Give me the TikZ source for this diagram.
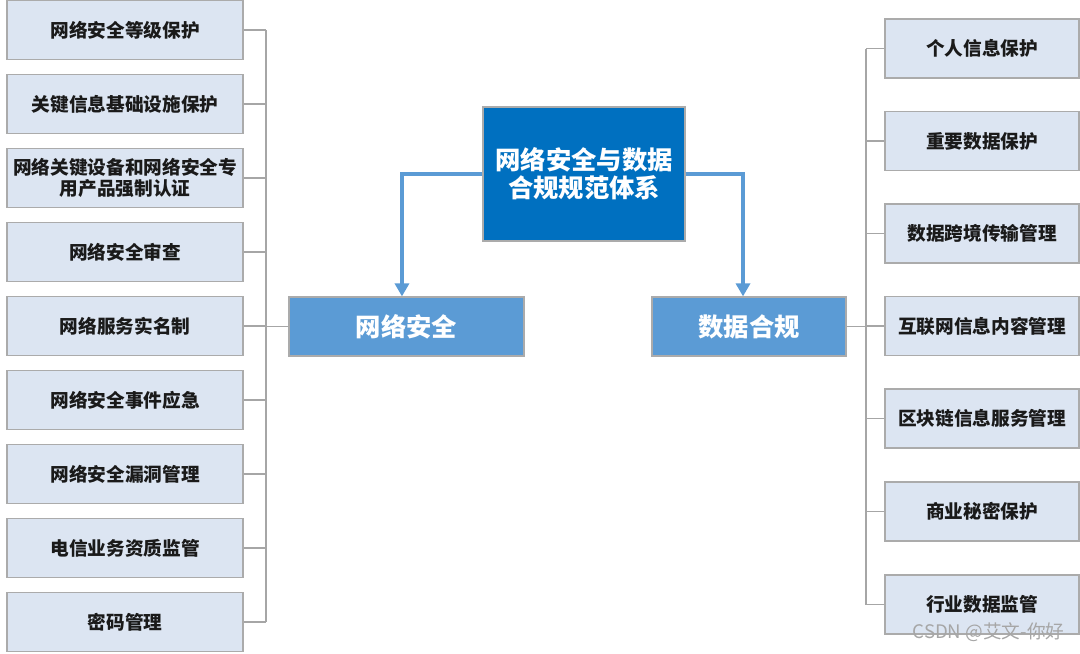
\documentclass[tikz,border=0pt]{standalone}
\usepackage{fontspec}
\setmainfont{Noto Sans CJK SC}
\usetikzlibrary{arrows.meta}
\definecolor{leaffill}{HTML}{DCE5F2}
\definecolor{leafdraw}{HTML}{ABABAB}
\definecolor{connc}{HTML}{A6A6A6}
\definecolor{topblue}{HTML}{0070C0}
\definecolor{midblue}{HTML}{5B9BD5}
\definecolor{txt}{HTML}{1A1A1A}
\begin{document}
\begin{tikzpicture}[x=0.75pt,y=-0.75pt,
  leaf/.style={draw=leafdraw, fill=leaffill, line width=0.9pt, text=txt,
    font=\bfseries\fontsize{14}{15.75}\selectfont, align=center,
    minimum height=44.25pt, inner sep=0pt},
  lleaf/.style={leaf, minimum width=177pt},
  rleaf/.style={leaf, minimum width=145.5pt},
  mid/.style={draw=leafdraw, fill=midblue, line width=0.9pt, text=white,
    font=\bfseries\fontsize{19}{21}\selectfont, minimum height=44.25pt, inner sep=0pt},
  topbox/.style={draw=leafdraw, fill=topblue, line width=0.9pt, text=white,
    font=\bfseries\fontsize{19}{21}\selectfont, align=center,
    minimum width=151.5pt, minimum height=100.5pt, inner sep=0pt},
  conn/.style={draw=connc, line width=0.8pt},
  arr/.style={draw=midblue, line width=3.4pt,
    -{Triangle[width=10.5pt,length=9.75pt]}},
  wm/.style={text=gray!70, font=\fontsize{14}{16}\selectfont}
]
\useasboundingbox (0,0) rectangle (1080,653);

% central
\node[topbox] (top) at (584,174) {网络安全与数据\\合规规范体系};
\node[mid, minimum width=176.25pt] (ns) at (406.5,326.5) {网络安全};
\node[mid, minimum width=145.5pt] (dc) at (749,326.5) {数据合规};

% left leaves
\node[lleaf] (L1) at (125,30)  {网络安全等级保护};
\node[lleaf] (L2) at (125,104) {关键信息基础设施保护};
\node[lleaf] (L3) at (125,178) {网络关键设备和网络安全专\\用产品强制认证};
\node[lleaf] (L4) at (125,252) {网络安全审查};
\node[lleaf] (L5) at (125,326) {网络服务实名制};
\node[lleaf] (L6) at (125,400) {网络安全事件应急};
\node[lleaf] (L7) at (125,474) {网络安全漏洞管理};
\node[lleaf] (L8) at (125,548) {电信业务资质监管};
\node[lleaf] (L9) at (125,622) {密码管理};

% right leaves
\node[rleaf] (R1) at (982,48.5)  {个人信息保护};
\node[rleaf] (R2) at (982,141)   {重要数据保护};
\node[rleaf] (R3) at (982,233.5) {数据跨境传输管理};
\node[rleaf] (R4) at (982,326)   {互联网信息内容管理};
\node[rleaf] (R5) at (982,418.5) {区块链信息服务管理};
\node[rleaf] (R6) at (982,511.5) {商业秘密保护};
\node[rleaf] (R7) at (982,604.5) {行业数据监管};

% buses
\coordinate (lbus) at (266,0);
\coordinate (rbus) at (866,0);

\foreach \n in {L1,L2,L3,L4,L5,L6,L7,L8,L9}
  \draw[conn] (\n.east) -- (\n.east -| lbus);
\draw[conn] (L1.east -| lbus) -- (L9.east -| lbus);
\draw[conn] (ns.west) -- (ns.west -| lbus);

\foreach \n in {R1,R2,R3,R4,R5,R6,R7}
  \draw[conn] (\n.west) -- (\n.west -| rbus);
\draw[conn] (R1.west -| rbus) -- (R7.west -| rbus);
\draw[conn] (dc.east) -- (dc.east -| rbus);

% arrows
\draw[arr] (top.west) -| ([xshift=-3.4pt]ns.north);
\draw[arr] (top.east) -| ([xshift=-4.5pt]dc.north);

% watermark
\node[wm] (wmk) at (988.5,632) {CSDN @艾文-你好};
\end{tikzpicture}
\end{document}
